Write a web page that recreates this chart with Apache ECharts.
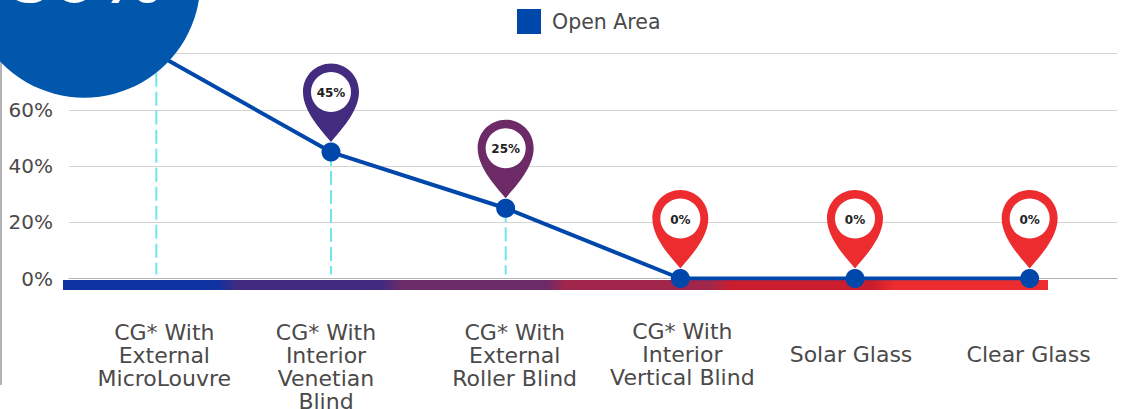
<!DOCTYPE html>
<html>
<head>
<meta charset="utf-8">
<style>
  html, body { margin: 0; padding: 0; background: #fff; }
  #chart { width: 1123px; height: 409px; }
</style>
<script src="https://cdn.jsdelivr.net/npm/echarts@6/dist/echarts.min.js"></script>
</head>
<body>
<div id="chart"></div>
<script>
const categories = [
  'CG* With\nExternal\nMicroLouvre',
  'CG* With\nInterior\nVenetian\nBlind',
  'CG* With\nExternal\nRoller Blind',
  'CG* With\nInterior\nVertical Blind',
  'Solar Glass',
  'Clear Glass'
];
const openArea = [80, 45, 25, 0, 0, 0];
const yTicks = [0, 20, 40, 60];
const pinColors = ['#0057ab', '#432c80', '#6c2b66', '#ec2c2e', '#ec2c2e', '#ec2c2e'];
// 底部色带，每段颜色
const bandColors = ['#0f33a0', '#412b80', '#6b2a68', '#a0264c', '#ca1e2e', '#ec2c2e'];
// 标签微调 [左右, 上下]
const labelNudge = [[8, 1], [-5, 1], [9, 1], [2, 0], [-4, 23], [-1, 23]];

const font = '"DejaVu Sans", sans-serif';
const textColor = '#4b4949';
const lineBlue = '#0047ab';

const chart = echarts.init(document.getElementById('chart'), null, { renderer: 'svg' });

// 水滴形定位图标，尖端在 (x, y)
const pinPath = (x, y) => {
  const top = y - 78.5;
  return `M${x} ${y}C${x - 8} ${y - 10} ${x - 28} ${y - 30} ${x - 28} ${y - 50}` +
    `C${x - 28} ${top + 12} ${x - 15} ${top} ${x} ${top}` +
    `C${x + 15} ${top} ${x + 28} ${top + 12} ${x + 28} ${y - 50}` +
    `C${x + 28} ${y - 30} ${x + 8} ${y - 10} ${x} ${y}Z`;
};

const bandStops = [];
bandColors.forEach((color, i) => {
  bandStops.push({ offset: (i + 0.06) / bandColors.length, color });
  bandStops.push({ offset: (i + 0.94) / bandColors.length, color });
});

chart.setOption({
  animation: false,
  legend: {
    data: [{ name: 'Open Area', icon: 'rect', itemStyle: { color: lineBlue } }],
    left: 512,
    top: 4,
    itemWidth: 24,
    itemHeight: 25,
    itemGap: 11,
    textStyle: { fontFamily: font, fontSize: 20.5, color: textColor, padding: [0, 0, 0, 6] },
  },
  grid: { left: 69, right: 6, top: -2.5, bottom: 130.5, outerBoundsMode: 'none' },
  xAxis: {
    type: 'category',
    data: categories.map((value, i) => {
      const [dx, dy] = labelNudge[i];
      return {
        value,
        textStyle: { padding: [dy, dx < 0 ? -dx * 2 : 0, 0, dx > 0 ? dx * 2 : 0] },
      };
    }),
    axisTick: { show: false },
    axisLine: { lineStyle: { color: '#b5b5b5', width: 1 } },
    axisLabel: {
      interval: 0,
      margin: 41,
      fontFamily: font,
      fontSize: 22,
      lineHeight: 23,
      color: textColor,
      verticalAlign: 'top',
    },
  },
  yAxis: {
    type: 'value',
    min: 0,
    max: 100,
    interval: 20,
    axisLine: { show: false },
    axisTick: { show: false },
    splitLine: { lineStyle: { color: '#d4d4d4', width: 1 } },
    axisLabel: {
      margin: 16,
      fontFamily: font,
      fontSize: 20,
      color: textColor,
      formatter: (v) => (yTicks.includes(v) ? `${v}%` : ''),
    },
  },
  graphic: [
    // 左侧竖线
    { type: 'rect', z: 1, shape: { x: 0, y: 60, width: 2, height: 325 }, style: { fill: '#b5b5b5' } },
    // 底部渐变色带
    {
      type: 'rect',
      z: 2,
      shape: { x: 63, y: 280, width: 985, height: 10 },
      style: { fill: new echarts.graphic.LinearGradient(0, 0, 1, 0, bandStops) },
    },
  ],
  series: [
    {
      // 虚线
      type: 'custom',
      z: 3,
      silent: true,
      data: openArea,
      renderItem: (params, api) => {
        const p = api.coord([params.dataIndex, api.value(1)]);
        const base = api.coord([params.dataIndex, 0]);
        return {
          type: 'line',
          shape: { x1: p[0], y1: p[1], x2: base[0], y2: base[1] - 4 },
          style: { stroke: '#6fe6ec', lineWidth: 2, lineDash: [14, 5] },
        };
      },
    },
    {
      name: 'Open Area',
      type: 'line',
      z: 4,
      data: openArea,
      symbol: 'circle',
      symbolSize: 19,
      lineStyle: { color: lineBlue, width: 4 },
      itemStyle: { color: lineBlue },
    },
    {
      // 定位图标，第一个是大圆
      type: 'custom',
      z: 5,
      silent: true,
      clip: false,
      data: openArea,
      renderItem: (params, api) => {
        const i = params.dataIndex;
        const p = api.coord([i, api.value(1)]);
        const label = `${api.value(1)}%`;
        if (i === 0) {
          return {
            type: 'group',
            children: [
              { type: 'circle', shape: { cx: p[0] - 72, cy: p[1] - 72, r: 116 }, style: { fill: pinColors[i] } },
              {
                type: 'text',
                style: {
                  x: p[0] - 72, y: p[1] - 42, text: label, fill: '#fff',
                  font: `700 65px ${font}`, align: 'center', verticalAlign: 'bottom',
                },
              },
            ],
          };
        }
        const tipY = p[1] - 10;
        const cy = tipY - 50;
        return {
          type: 'group',
          children: [
            { type: 'path', shape: { pathData: pinPath(p[0], tipY) }, style: { fill: pinColors[i] } },
            { type: 'circle', shape: { cx: p[0], cy, r: 20 }, style: { fill: '#fff' } },
            {
              type: 'text',
              style: {
                x: p[0], y: cy + 1, text: label, fill: '#222',
                font: `700 12px ${font}`, align: 'center', verticalAlign: 'middle',
              },
            },
          ],
        };
      },
    },
  ],
});
</script>
</body>
</html>
